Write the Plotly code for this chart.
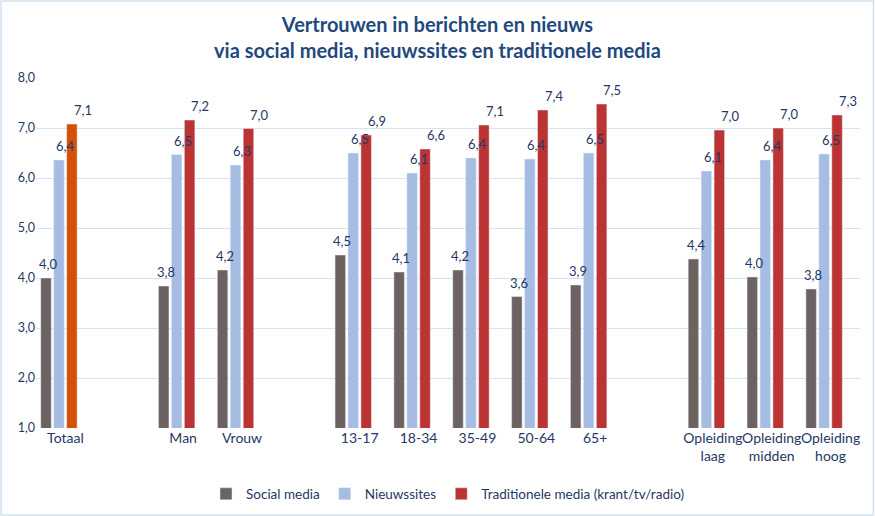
import plotly.graph_objects as go

categories = ["Totaal", "Man", "Vrouw", "13-17", "18-34", "35-49", "50-64", "65+",
              "Opleiding<br>laag", "Opleiding<br>midden", "Opleiding<br>hoog"]
positions = [0, 2, 3, 5, 6, 7, 8, 9, 11, 12, 13]
social_media = [4.00, 3.84, 4.16, 4.46, 4.12, 4.16, 3.63, 3.86, 4.38, 4.02, 3.78]
nieuwssites = [6.36, 6.47, 6.26, 6.50, 6.10, 6.40, 6.38, 6.50, 6.14, 6.36, 6.48]
traditioneel = [7.08, 7.16, 6.99, 6.86, 6.58, 7.06, 7.36, 7.48, 6.96, 7.00, 7.26]
y_ticks = [1, 2, 3, 4, 5, 6, 7, 8]

W, H = 875, 516
ml, mr, mt, mb = 35.5, 14.5, 78, 88
pw, ph = W - ml - mr, H - mt - mb

FONT = "Lato, 'Open Sans', sans-serif"
TXT = "#1F3864"
BARGAP, BARGROUPGAP = 0.12, 0.19
slot = (1 - BARGAP) / 3

trad_colors = ["#D45009"] + ["#BB3433"] * (len(categories) - 1)

fig = go.Figure()
fig.add_trace(go.Bar(name="Social media", x=positions, y=social_media,
                     marker=dict(color="#6C6262")))
fig.add_trace(go.Bar(name="Nieuwssites", x=positions, y=nieuwssites,
                     marker=dict(color="#A6BCE3")))
fig.add_trace(go.Bar(name="Traditionele media (krant/tv/radio)", x=positions, y=traditioneel,
                     marker=dict(color=trad_colors), showlegend=False))
# legend entry for the traditional series (its first bar is orange)
fig.add_trace(go.Bar(name="Traditionele media (krant/tv/radio)", x=[None], y=[None],
                     marker=dict(color="#BB3433"), showlegend=True))

# data labels above the bars
for k, series in enumerate([social_media, nieuwssites, traditioneel]):
    off = (k - 1) * slot
    for p, v in zip(positions, series):
        fig.add_annotation(x=p + off, y=v, xref="x", yref="y", text=f"{v:.1f}".replace(".", ","),
                           showarrow=False, yanchor="middle", yshift=14,
                           font=dict(size=13, color=TXT, family=FONT))

fig.update_layout(
    width=W, height=H,
    margin=dict(l=ml, r=mr, t=mt, b=mb, autoexpand=False),
    paper_bgcolor="white", plot_bgcolor="white",
    separators=",.",
    font=dict(family=FONT, color=TXT, size=13),
    barmode="group", bargap=BARGAP, bargroupgap=BARGROUPGAP,
    xaxis=dict(range=[-0.5, 13.5], tickmode="array", tickvals=positions, ticktext=categories,
               tickangle=0, showgrid=False, zeroline=False, showline=False, ticks="",
               tickfont=dict(size=14, color=TXT)),
    yaxis=dict(range=[1, 8], tickvals=y_ticks, tickformat=".1f",
               showgrid=True, gridcolor="#D5E2F2", gridwidth=1.3, zeroline=False,
               showline=False, ticks="", tickfont=dict(size=12.5, color=TXT)),
    legend=dict(orientation="h", x=0.5, xanchor="center", y=-(494 - mt - ph) / ph,
                yanchor="middle", font=dict(size=13.5, color=TXT), traceorder="normal",
                itemwidth=30),
    showlegend=True,
)

fig.add_annotation(
    text="<b>Vertrouwen in berichten en nieuws<br>via social media, nieuwssites en traditionele media</b>",
    xref="paper", yref="paper", x=(W / 2 - ml) / pw, y=1 + (mt - 36.5) / ph,
    xanchor="center", yanchor="middle", showarrow=False,
    font=dict(size=20, color="#1F497D", family=FONT))

# outer border
fig.add_shape(type="rect", xref="paper", yref="paper",
              x0=(0.5 - ml) / pw, x1=(W - 1 - ml) / pw,
              y0=-(H - 1 - mt - ph) / ph, y1=1 + (mt - 1) / ph,
              line=dict(color="#D0DFF0", width=1.5), fillcolor="rgba(0,0,0,0)", layer="below")

fig.write_html("out.html", config={"displayModeBar": False},
               post_script="document.body.style.margin='0';document.body.style.overflow='hidden';")
